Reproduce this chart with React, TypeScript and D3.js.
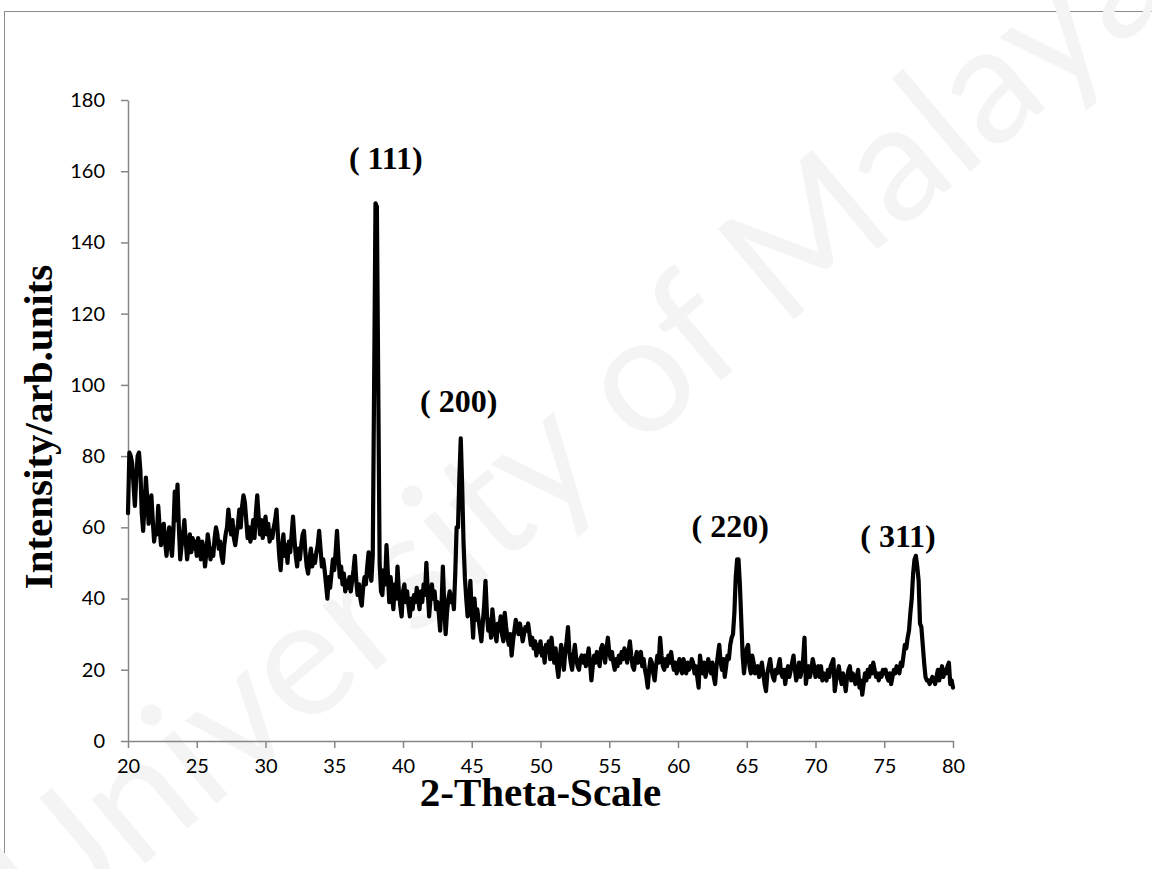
import React, { useEffect, useRef } from 'react';
import * as d3 from 'd3';

const START_ANGLE = 20;
const STEP = 0.1;

const intensity20 = [
  64, 81, 80, 78, 72, 66, 74, 80, 81, 76,
  64, 59, 66, 74, 68, 61, 63, 69, 62, 56,
  60, 58, 66, 60, 55, 57, 61, 56, 52, 57,
  60, 55, 52, 59, 70, 62, 72, 60, 51, 55,
  58, 62, 56, 51, 55, 58, 53, 57, 54, 56,
];
const intensity25 = [
  52, 57, 55, 51, 56, 54, 49, 53, 58, 55,
  51, 54, 52, 57, 60, 58, 54, 56, 52, 50,
  55, 58, 60, 65, 61, 58, 62, 57, 55, 58,
  61, 65, 60, 66, 69, 67, 62, 57, 60, 56,
  58, 62, 57, 64, 69, 63, 58, 62, 57, 60,
];
const intensity30 = [
  63, 58, 61, 56, 59, 57, 60, 62, 65, 58,
  52, 48, 54, 58, 52, 55, 50, 56, 53, 58,
  63, 57, 52, 49, 54, 51, 55, 58, 59, 53,
  49, 47, 51, 54, 49, 52, 50, 53, 55, 59,
  54, 49, 51, 48, 44, 40, 46, 43, 47, 51,
];
const intensity35 = [
  48, 53, 59, 52, 46, 49, 44, 47, 42, 45,
  43, 46, 42, 45, 48, 52, 45, 41, 44, 40,
  38, 43, 46, 44, 49, 53, 47, 45, 52, 100,
  151, 150, 100, 50, 42, 41, 48, 44, 55, 47,
  39, 46, 41, 37, 44, 40, 49, 42, 38, 35,
];
const intensity40 = [
  42, 44, 39, 42, 38, 35, 40, 37, 41, 39,
  43, 40, 37, 42, 39, 44, 41, 50, 42, 35,
  40, 44, 40, 42, 37, 39, 36, 31, 38, 49,
  38, 30, 36, 40, 42, 39, 41, 37, 47, 60,
  60, 74, 85, 72, 56, 46, 40, 35, 38, 45,
];
const intensity45 = [
  36, 29, 40, 34, 37, 34, 31, 28, 33, 38,
  45, 36, 31, 34, 29, 37, 33, 30, 28, 33,
  31, 35, 30, 28, 36, 32, 29, 27, 30, 24,
  28, 31, 34, 32, 30, 33, 31, 28, 30, 32,
  31, 33, 30, 27, 29, 26, 28, 24, 27, 25,
];
const intensity50 = [
  28, 24, 26, 22, 27, 25, 28, 23, 29, 25,
  22, 26, 21, 18, 23, 27, 24, 20, 25, 28,
  32, 25, 22, 20, 24, 27, 23, 21, 20, 23,
  24, 22, 24, 21, 23, 26, 22, 17, 21, 24,
  22, 25, 23, 21, 26, 27, 24, 22, 26, 29,
];
const intensity55 = [
  25, 23, 25, 22, 20, 23, 21, 24, 22, 25,
  23, 26, 24, 22, 25, 28, 24, 21, 20, 23,
  25, 22, 24, 25, 21, 23, 20, 18, 15, 20,
  23, 22, 19, 17, 21, 24, 22, 29, 24, 21,
  20, 23, 21, 24, 22, 25, 22, 20, 22, 19,
];
const intensity60 = [
  21, 23, 20, 19, 23, 21, 19, 22, 20, 21,
  23, 22, 19, 21, 18, 15, 24, 21, 19, 22,
  18, 20, 23, 21, 19, 22, 18, 16, 21, 24,
  27, 22, 20, 23, 18, 21, 24, 23, 27, 29,
  30, 36, 46, 51, 51, 44, 34, 24, 19, 23,
];
const intensity65 = [
  26, 27, 21, 19, 24, 22, 19, 20, 21, 18,
  20, 22, 19, 16, 14, 19, 21, 23, 20, 18,
  17, 20, 19, 21, 23, 19, 18, 20, 16, 19,
  21, 18, 20, 22, 24, 20, 17, 19, 22, 18,
  20, 23, 29, 16, 19, 21, 18, 20, 23, 21,
];
const intensity70 = [
  18, 19, 21, 18, 21, 17, 19, 18, 17, 20,
  18, 21, 22, 23, 14, 17, 19, 21, 18, 16,
  19, 17, 14, 18, 20, 21, 17, 19, 18, 16,
  18, 20, 15, 17, 13, 16, 19, 17, 20, 18,
  21, 19, 22, 20, 18, 19, 17, 19, 18, 20,
];
const intensity75 = [
  19, 20, 18, 17, 19, 16, 18, 20, 19, 21,
  20, 19, 22, 21, 24, 27, 26, 29, 31, 36,
  40, 47, 51, 52, 49, 45, 33, 32, 27, 22,
  18, 17, 17, 16, 17, 18, 17, 16, 18, 20,
  17, 19, 21, 18, 20, 19, 21, 22, 16, 17,
  15,
];

const yTicks = [0, 20, 40, 60, 80, 100, 120, 140, 160, 180];
const xTicks = [20, 25, 30, 35, 40, 45, 50, 55, 60, 65, 70, 75, 80];

// peak index labels, anchored in data units (centre / baseline)
const peakLabels = ['( 111)', '( 200)', '( 220)', '( 311)'];
const labelAngles = [38.75, 44.05, 63.8, 76.0];
const labelValues = [160.5, 92.5, 57.3, 54.5];

export default function App() {
  const svgRef = useRef<SVGSVGElement>(null);

  useEffect(() => {
    const el = svgRef.current;
    if (!el) return;
    d3.select(el).selectAll('*').remove();

    const width = 1152;
    const height = 869;
    const margin = { top: 100, right: 199, bottom: 128, left: 128 };
    const innerWidth = width - margin.left - margin.right;
    const innerHeight = height - margin.top - margin.bottom;

    const values = [
      ...intensity20, ...intensity25, ...intensity30, ...intensity35,
      ...intensity40, ...intensity45, ...intensity50, ...intensity55,
      ...intensity60, ...intensity65, ...intensity70, ...intensity75,
    ];
    const data = values.map((v, i) => ({ angle: START_ANGLE + i * STEP, value: v }));

    const svg = d3.select(el);

    // outer chart frame (runs off the page on the right and bottom)
    svg.append('rect')
      .attr('x', 4.5).attr('y', 11.5)
      .attr('width', 1300).attr('height', 1000)
      .attr('fill', '#fff')
      .attr('stroke', '#8c8c8c')
      .attr('stroke-width', 1);

    // faint watermark
    svg.append('text')
      .attr('transform', 'translate(585,440) rotate(-40)')
      .attr('text-anchor', 'middle')
      .attr('dominant-baseline', 'middle')
      .attr('font-family', 'Lato, sans-serif')
      .attr('font-size', 165)
      .attr('fill', '#f4f4f4')
      .text('University of Malaya');

    const g = svg.append('g')
      .attr('transform', `translate(${margin.left},${margin.top})`);

    const x = d3.scaleLinear().domain([20, 80]).range([0, innerWidth]);
    const y = d3.scaleLinear().domain([0, 180]).range([innerHeight, 0]);

    const axisColor = '#868686';
    const tickFont = 'Lato, sans-serif';
    const serif = "'Liberation Serif', 'Times New Roman', serif";

    const xAxis = g.append('g')
      .attr('transform', `translate(0,${innerHeight})`)
      .call(d3.axisBottom(x).tickValues(xTicks).tickSize(7).tickSizeOuter(0).tickPadding(11));
    const yAxis = g.append('g')
      .call(d3.axisLeft(y).tickValues(yTicks).tickSize(7).tickSizeOuter(0).tickPadding(16));

    [xAxis, yAxis].forEach(ax => {
      ax.select('.domain').attr('stroke', axisColor).attr('stroke-width', 1.5);
      ax.selectAll('line').attr('stroke', axisColor).attr('stroke-width', 1.5);
      ax.selectAll('text')
        .attr('fill', '#000')
        .attr('font-family', tickFont)
        .attr('font-size', 20);
    });

    const line = d3.line<{ angle: number; value: number }>()
      .x(d => x(d.angle))
      .y(d => y(d.value));

    g.append('path')
      .datum(data)
      .attr('fill', 'none')
      .attr('stroke', '#000')
      .attr('stroke-width', 4.2)
      .attr('stroke-linejoin', 'round')
      .attr('stroke-linecap', 'round')
      .attr('d', line);

    // peak indices
    peakLabels.forEach((label, i) => {
      g.append('text')
        .attr('x', x(labelAngles[i]))
        .attr('y', y(labelValues[i]))
        .attr('text-anchor', 'middle')
        .attr('font-family', serif)
        .attr('font-weight', 'bold')
        .attr('font-size', 32)
        .attr('fill', '#000')
        .text(label);
    });

    // axis titles
    svg.append('text')
      .attr('x', margin.left + innerWidth / 2)
      .attr('y', 806)
      .attr('text-anchor', 'middle')
      .attr('font-family', serif)
      .attr('font-weight', 'bold')
      .attr('font-size', 41)
      .attr('fill', '#000')
      .text('2-Theta-Scale');

    svg.append('text')
      .attr('transform', 'translate(52,427) rotate(-90)')
      .attr('text-anchor', 'middle')
      .attr('font-family', serif)
      .attr('font-weight', 'bold')
      .attr('font-size', 41)
      .attr('fill', '#000')
      .text('Intensity/arb.units');
  }, []);

  return (
    <svg
      ref={svgRef}
      width={1152}
      height={869}
      style={{ position: 'absolute', left: 0, top: 0, display: 'block', background: '#fff' }}
    />
  );
}
